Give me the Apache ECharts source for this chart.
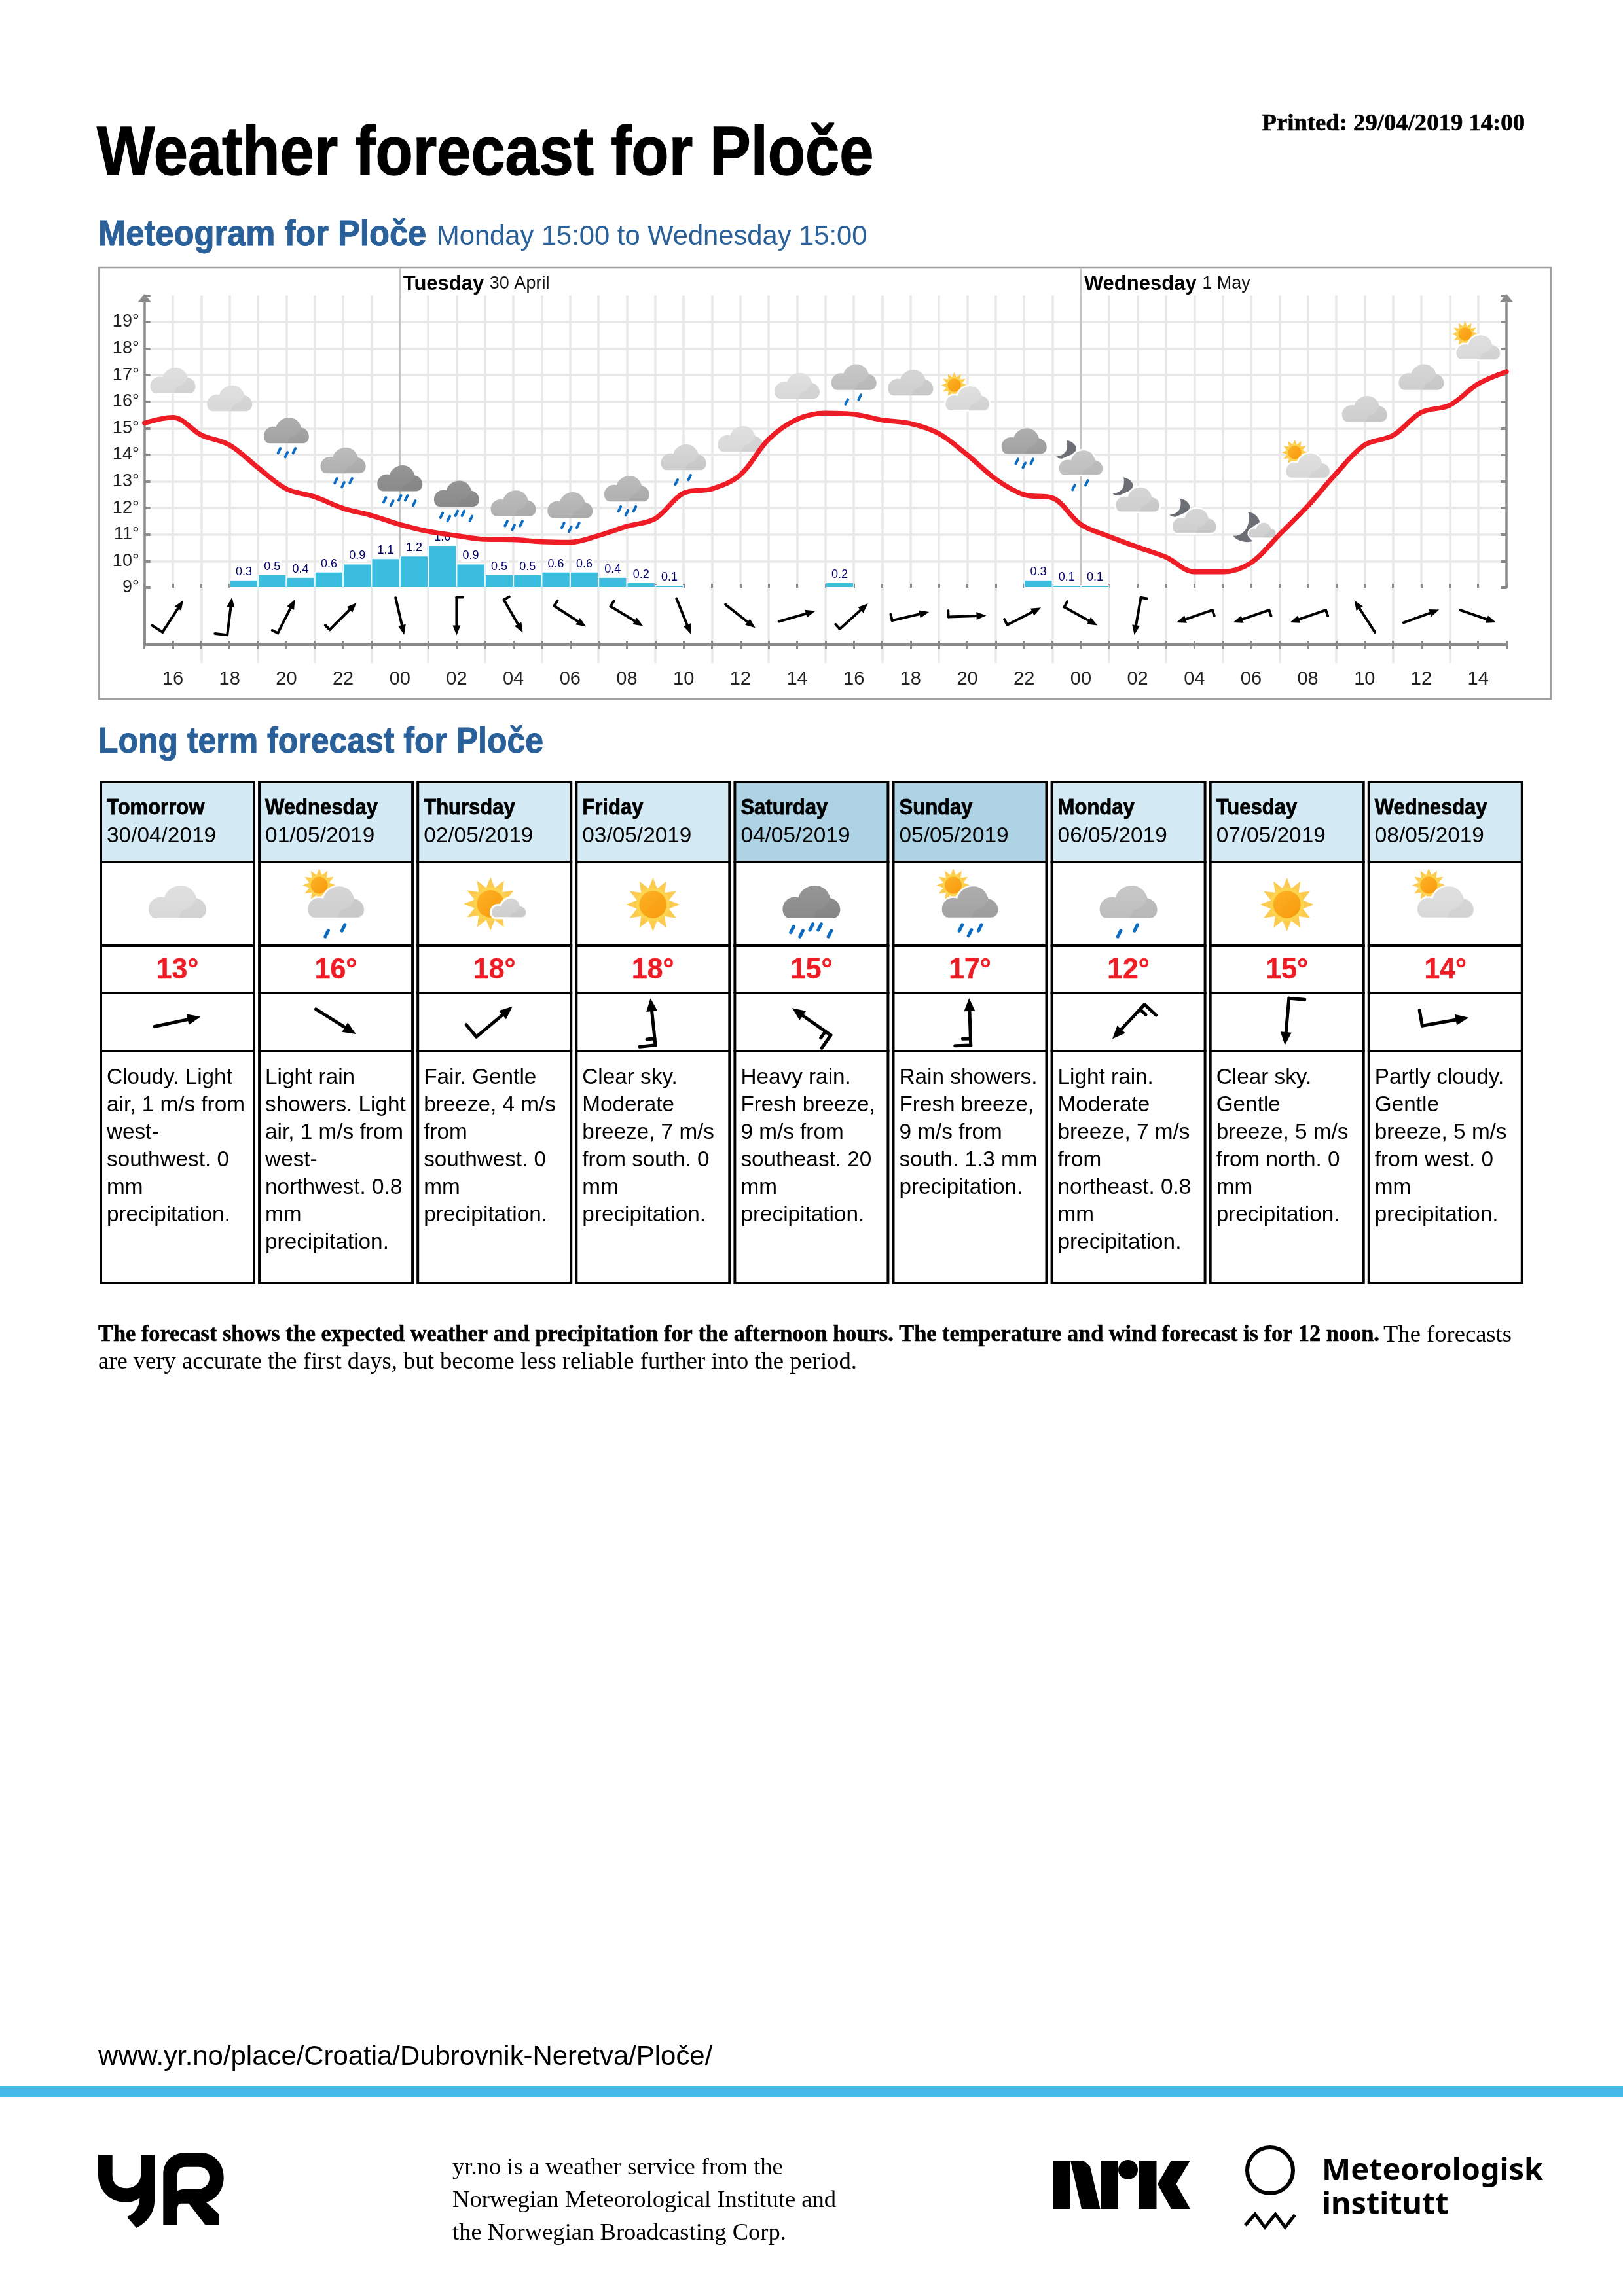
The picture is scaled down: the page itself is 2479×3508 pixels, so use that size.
<!DOCTYPE html>
<html><head><meta charset="utf-8">
<style>html,body{margin:0;padding:0;background:#fff}#c{width:2479px;height:3508px}</style>
<script src="https://cdn.jsdelivr.net/npm/echarts@6/dist/echarts.min.js"></script>
</head><body><div id="c"></div>
<script>
// ---------- data ----------
const temps = [15.2,15.41,14.75,14.37,13.52,12.72,12.42,11.99,11.72,11.38,11.12,10.96,10.82,10.81,10.73,10.71,10.96,11.31,11.6,12.56,12.72,13.25,14.59,15.34,
  15.57,15.53,15.31,15.18,14.8,14.0,13.09,12.5,12.38,11.38,10.93,10.53,10.15,9.6,9.6,9.94,11.0,12.08,13.3,14.37,14.73,15.6,15.87,16.67,17.13];
const precip = [0,0,0,0.3,0.5,0.4,0.6,0.9,1.1,1.2,1.6,0.9,0.5,0.5,0.6,0.6,0.4,0.2,0.1,0,0,0,0,0,0.2,0,0,0,0,0,0,0.3,0.1,0.1,0,0,0,0,0,0,0,0,0,0,0,0,0,0];
const hourLabels = ['16','18','20','22','00','02','04','06','08','10','12','14','16','18','20','22','00','02','04','06','08','10','12','14'];
const tempTicks = [9,10,11,12,13,14,15,16,17,18,19];
const iconLevels = [16.8,16.13,14.92,13.79,13.12,12.54,12.18,12.11,12.73,13.91,14.6,16.6,16.93,16.72,16.13,14.52,13.71,12.32,11.52,11.17,13.6,15.73,16.93,18.05];
const iconShades = [0,0,4,3,5,5,3,3,3,1,0,0,2,1,0,4,2,1,1,1,0,1,1,0];
const iconDrops  = [0,0,3,3,5,5,3,3,3,2,0,0,2,0,0,3,2,0,0,0,0,0,0,0];
const iconSkies  = ['','','','','','','','','','','','','','','sun','','moon','moon','moon','fairnight','sun','','','sun'];
const windAngles = [-57,-83,-63,-45,77,90,60,33,31,68,38,-16,-42,-13,-2,-27,29,100,161,161,161,-123,-20,19];
const windBarbs  = [1,1,0.5,0.5,0,0.5,0.5,0.5,0.5,0,0,0,0.5,0.5,0.5,0.5,0.5,0.5,0.5,0.5,0.5,0,0,0];
const dayOffsets = [9,33];
const dayNames = ['Tuesday','Wednesday'];
const dayDates = ['30 April','1 May'];
const longDays = ['Tomorrow','Wednesday','Thursday','Friday','Saturday','Sunday','Monday','Tuesday','Wednesday'];
const longDates = ['30/04/2019','01/05/2019','02/05/2019','03/05/2019','04/05/2019','05/05/2019','06/05/2019','07/05/2019','08/05/2019'];
const longWeekend = [0,0,0,0,1,1,0,0,0];
const longTemps = [13,16,18,18,15,17,12,15,14];
const longShades = [0,1,1,0,5,4,2,0,0];
const longDrops = [0,2,0,0,5,3,2,0,0];
const longSkies = ['','sun','fair','clear','','sun','','clear','sun'];
const longWindAngles = [-12,32,-40,-96,-145,-92,133,95,-10];
const longWindBarbs = [0,0,1,1.5,1.5,1.5,1.5,1,1];
const longTexts = [
 'Cloudy. Light\nair, 1 m/s from\nwest-\nsouthwest. 0\nmm\nprecipitation.',
 'Light rain\nshowers. Light\nair, 1 m/s from\nwest-\nnorthwest. 0.8\nmm\nprecipitation.',
 'Fair. Gentle\nbreeze, 4 m/s\nfrom\nsouthwest. 0\nmm\nprecipitation.',
 'Clear sky.\nModerate\nbreeze, 7 m/s\nfrom south. 0\nmm\nprecipitation.',
 'Heavy rain.\nFresh breeze,\n9 m/s from\nsoutheast. 20\nmm\nprecipitation.',
 'Rain showers.\nFresh breeze,\n9 m/s from\nsouth. 1.3 mm\nprecipitation.',
 'Light rain.\nModerate\nbreeze, 7 m/s\nfrom\nnortheast. 0.8\nmm\nprecipitation.',
 'Clear sky.\nGentle\nbreeze, 5 m/s\nfrom north. 0\nmm\nprecipitation.',
 'Partly cloudy.\nGentle\nbreeze, 5 m/s\nfrom west. 0\nmm\nprecipitation.'];

// ---------- drawing helpers ----------
const SANS='"Liberation Sans"', SERIF='"Liberation Serif"';
const GREY='#8a8c8c', GRID='#e8e8e8', RED='#ee1c25', BLUE='#2a6099';
const shadePalette=[['#e0e0e0','#d8d8d8'],['#d6d6d6','#cecece'],['#c8c8c8','#bebebe'],['#bcbcbc','#b0b0b0'],['#aeaeae','#a2a2a2'],['#969696','#8a8a8a']];
const CLOUD='M13 57C5 57 0 50 0 41C0 30 8 21 20 20C22 20 25 20 27 21C31 8 43 0 56 0C69 0 79 8 83 22C93 24 100 32 100 42C100 51 94 57 86 57Z';
const PATCH='M60 42C70 42 78 32 83 22C93 24 100 32 100 42C100 51 94 57 86 57L52 57C56 52 56 46 60 42Z';
const MOON='M-22 -34C-12 -32 -7 -25 -8 -20C-9 -15 -13 -13 -16 -12L-29 -6C-33 -6 -36 -7 -38 -9C-30 -10 -24 -14 -22 -20C-21 -25 -21 -30 -22 -34Z';
const MOON2='M168 187C200 190 222 215 220 235C205 240 180 255 170 275C170 290 175 305 188 316C160 325 120 315 100 292C130 295 155 275 165 250C175 225 175 205 168 187Z';

function T(text,x,y,font,fill,o){o=o||{};
  const el={type:'text',x:x,y:y,scaleX:o.sx||1,silent:true,z2:o.z2||20,style:{text:text,x:0,y:0,font:font,fill:fill,
    align:o.align||'left',verticalAlign:'middle',textAlign:o.align||'left',textVerticalAlign:'middle'}};
  if(o.stroke){el.style.stroke=fill;el.style.lineWidth=o.stroke;}
  return el;}
function P(d,x,y,w,h,style,z2){return {type:'path',silent:true,z2:z2||1,shape:{pathData:d,layout:'cover',x:x,y:y,width:w,height:h},style:style};}
function sunEls(cx,cy,R){
  const pts=[];for(let i=0;i<24;i++){const a=i*Math.PI/12-Math.PI/2,r=i%2?R*0.62:R;pts.push([cx+r*Math.cos(a),cy+r*Math.sin(a)]);}
  return [{type:'polygon',silent:true,z2:1,shape:{points:pts},style:{fill:'#fccb50'}},
   {type:'circle',silent:true,z2:1,shape:{cx:cx,cy:cy,r:R*0.63},style:{fill:'#fcd44e'}},
   {type:'circle',silent:true,z2:1,shape:{cx:cx,cy:cy,r:R*0.51},style:{fill:{type:'linear',x:0,y:0,x2:1,y2:1,colorStops:[{offset:0,color:'#fdb226'},{offset:1,color:'#f8990c'}]}}}];}
function cloudEls(cx,cy,w,shade,outline){
  const h=w*57/100, c=shadePalette[shade], st={fill:{type:'linear',x:0,y:0,x2:0,y2:1,colorStops:[{offset:0,color:c[0]},{offset:1,color:c[1]}]}};
  if(outline){st.stroke='#fff';st.lineWidth=outline;}
  return [P(CLOUD,cx-w/2,cy-h/2,w,h,st,2),
    P(PATCH,cx-w/2+0.52*w,cy-h/2+22/57*h,0.48*w,35/57*h,{fill:'rgba(0,0,0,0.03)'},3)];}
function dropEls(cx,cy,k,n){
  const pat={2:[[-11,38],[9,31]],3:[[-11,31],[0,37],[12,31]],5:[[-23,33],[-12,38],[0,30],[10,30],[22,38]]}[n]||[];
  return pat.map(p=>({type:'line',silent:true,z2:3,shape:{x1:cx+(p[0]+1.8)*k,y1:cy+(p[1]-3.6)*k,x2:cx+(p[0]-1.8)*k,y2:cy+(p[1]+3.6)*k},
    style:{stroke:'#0b6cc2',lineWidth:4*k,lineCap:'round'}}));}
function iconEls(cx,cy,w,shade,drops,sky){
  const k=w/69, els=[];
  if(sky==='clear') return sunEls(cx,cy+4,41);
  if(sky==='fair'){ return sunEls(cx-6,cy+3,41).concat(cloudEls(cx+22,cy+9,55,1,3)); }
  if(sky==='fairnight'){
    els.push(P(MOON2,cx-27.7,cy-27.7,40.7,46,{fill:'#6b6e75'},1));
    return els.concat(cloudEls(cx+17,cy,43,shade,2));
  }
  if(sky==='sun') els.push(...sunEls(cx-20*k,cy-20*k,20*k));
  if(sky==='moon') els.push(P(MOON,cx-38*k,cy-34*k,31*k,28*k,{fill:'#6b6e75'},1));
  els.push(...cloudEls(cx,cy,w,shade,sky?2.5:0));
  els.push(...dropEls(cx,cy,k,drops));
  return els;}
function arrowEls(cx,cy,angle,len,barbs,lw,headL,headW,longB){
  const a=angle*Math.PI/180, ux=Math.cos(a), uy=Math.sin(a), lx=uy, ly=-ux;
  const tx=cx-ux*len/2, ty=cy-uy*len/2, hx=cx+ux*len/2, hy=cy+uy*len/2;
  const bx=hx-ux*headL*0.8, by=hy-uy*headL*0.8, bs={stroke:'#000',lineWidth:lw,lineCap:'round'};
  const els=[{type:'line',silent:true,shape:{x1:tx,y1:ty,x2:bx,y2:by},style:bs},
   {type:'polygon',silent:true,shape:{points:[[hx,hy],[hx-ux*headL+lx*headW/2,hy-uy*headL+ly*headW/2],[hx-ux*headL-lx*headW/2,hy-uy*headL-ly*headW/2]]},style:{fill:'#000'}}];
  if(barbs>=1) els.push({type:'line',silent:true,shape:{x1:tx,y1:ty,x2:tx+lx*longB,y2:ty+ly*longB},style:bs});
  const n=barbs>=1?barbs-1:barbs;
  if(n>0){const off=barbs>=1?len*0.14:0, sx=tx+ux*off, sy=ty+uy*off;
    els.push({type:'line',silent:true,shape:{x1:sx,y1:sy,x2:sx+lx*longB/2,y2:sy+ly*longB/2},style:bs});}
  return els;}

// ---------- static page drawing ----------
function pageEls(){
  const E=[];
  const rect=(x,y,w,h,st,z2)=>({type:'rect',silent:true,z2:z2||0,shape:{x:x,y:y,width:w,height:h},style:st});
  E.push(T('Weather forecast for Ploče',148,238,'bold 105px '+SANS,'#000',{sx:0.893,stroke:1.5}));
  E.push(T('Printed: 29/04/2019 14:00',2329,190,'bold 36.7px '+SERIF,'#000',{align:'right',stroke:0.6}));
  E.push(T('Meteogram for Ploče',150,360,'bold 56px '+SANS,BLUE,{sx:0.905,stroke:1}));
  E.push(T('Monday 15:00 to Wednesday 15:00',667,363,'41.7px '+SANS,BLUE));
  E.push(rect(151,409,2218,659,{fill:'none',stroke:'#a0a0a0',lineWidth:2.5}));
  E.push(T('Long term forecast for Ploče',150,1135,'bold 56px '+SANS,BLUE,{sx:0.892,stroke:1}));
  // table
  const rows=[1195,1317,1445,1517,1606,1960];
  longDays.forEach((d,i)=>{
    const x=154+242.1*i, w=234, cx=x+w/2;
    E.push(rect(x,rows[0],w,rows[1]-rows[0],{fill:longWeekend[i]?'#aed3e5':'#d4ebf6'}));
    for(let r=0;r<5;r++) E.push(rect(x,rows[r],w,rows[r+1]-rows[r],{fill:'none',stroke:'#000',lineWidth:4},5));
    E.push(T(d,x+9,1235,'bold 33px '+SANS,'#000',{sx:0.94,stroke:0.8}));
    E.push(T(longDates[i],x+9,1278,'33.4px '+SANS,'#000'));
    iconEls(cx,1378,88,longShades[i],longDrops[i],longSkies[i]).forEach(e=>E.push(e));
    E.push(T(longTemps[i]+'°',cx,1483,'bold 44px '+SANS,RED,{align:'center',sx:0.97,stroke:0.5}));
    arrowEls(cx,1561,longWindAngles[i],72,longWindBarbs[i],5,20,17,24).forEach(e=>E.push(e));
    longTexts[i].split('\n').forEach((ln,j)=>E.push(T(ln,x+9,1647+42*j,'33.3px '+SANS,'#000')));
  });
  E.push(T('The forecast shows the expected weather and precipitation for the afternoon hours. The temperature and wind forecast is for 12 noon.',150,2040,'bold 36.6px '+SERIF,'#000',{sx:0.938,stroke:0.6}));
  E.push(T('The forecasts',2113,2040,'36.6px '+SERIF,'#000'));
  E.push(T('are very accurate the first days, but become less reliable further into the period.',150,2081,'36.6px '+SERIF,'#000'));
  E.push(T('www.yr.no/place/Croatia/Dubrovnik-Neretva/Ploče/',150,3143,'41.9px '+SANS,'#000'));
  E.push(rect(0,3187,2479,17,{fill:'#44b8e8'}));
  // footer text
  ['yr.no is a weather service from the','Norwegian Meteorological Institute and','the Norwegian Broadcasting Corp.'].forEach((t,i)=>E.push(T(t,691,3312+50*i,'36.6px '+SERIF,'#000')));
  // YR logo
  E.push(P('M60 97L125 97L125 190C125 230 150 250 190 250C225 250 255 225 255 190L255 97L318 97L318 310C318 365 280 410 235 432L192 382C225 365 250 340 250 295C230 310 205 315 185 315C115 315 60 260 60 190Z',130+20,3260+32.3,86,111.7,{fill:'#000'}));
  E.push(P('M358 420L358 185C358 130 400 88 455 88L530 88C590 88 635 135 635 200C635 260 600 300 555 315L615 370L615 420L552 420L475 320L440 320C425 320 423 335 423 350L423 420ZM423 262C430 258 440 255 450 255L510 255C545 255 570 235 570 200C570 170 548 152 520 152L460 152C435 152 423 168 423 190Z',130+119.3,3260+29.3,92.4,110.7,{fill:'#000'}));
  // NRK logo
  const poly=(pts)=>({type:'polygon',silent:true,shape:{points:pts},style:{fill:'#000'}});
  E.push(rect(1608,3301,26,74,{fill:'#000'}));
  E.push(poly([[1635,3301],[1655,3301],[1665,3310],[1680.5,3375],[1652,3375]]));
  E.push(rect(1681,3301,27,74,{fill:'#000'}));
  E.push({type:'circle',silent:true,shape:{cx:1723,cy:3315,r:15},style:{fill:'#000'}});
  E.push(rect(1739,3301,27.5,74,{fill:'#000'}));
  E.push(poly([[1789,3301],[1818,3301],[1796.5,3337],[1818,3375],[1789,3375],[1768,3337]]));
  // MET logo
  E.push({type:'circle',silent:true,shape:{cx:1940,cy:3316,r:35},style:{fill:'none',stroke:'#000',lineWidth:6}});
  E.push({type:'polyline',silent:true,shape:{points:[[1902,3400],[1917,3383],[1932,3403],[1948,3383],[1963,3403],[1978,3384]]},style:{fill:'none',stroke:'#000',lineWidth:5}});
  E.push(T('Meteorologisk',2019,3318,'bold 46.8px "Noto Sans"','#000'));
  E.push(T('institutt',2019,3370,'bold 46.8px "Noto Sans"','#000'));
  return E;}

// ---------- chart ----------
const L=220.7, R=2479-2301, Y9=898, PX=40.6;
const hourAxis=(g,extra)=>Object.assign({type:'value',gridIndex:g,min:0,max:48,interval:1,axisLabel:{show:false},axisLine:{show:false},axisTick:{show:false},splitLine:{show:false}},extra);
const tickStyle={color:GREY,width:3};
const oddHours=hourLabels.map((_,i)=>2*i+1);
const chart=echarts.init(document.getElementById('c'));
chart.setOption({
  animation:false,backgroundColor:'#fff',
  grid:[
    {left:L,right:R,top:Y9-11*PX,height:11*PX},
    {left:L,right:R,top:Y9,height:87},
    {left:L,right:R,top:Y9,height:115},
    {left:L,right:R,top:975,height:10}
  ],
  xAxis:[
    hourAxis(0,{splitLine:{show:true,showMinLine:false,showMaxLine:false,lineStyle:{color:GRID,width:3.5}},axisTick:{show:true,inside:true,length:6,lineStyle:tickStyle}}),
    {type:'category',gridIndex:0,data:precip.map((_,i)=>i),show:false,boundaryGap:true},
    hourAxis(1,{position:'top',z:10,axisLine:{show:true,lineStyle:{color:GREY,width:4}},axisTick:{show:true,inside:true,length:7,lineStyle:tickStyle}}),
    hourAxis(1,{position:'bottom',z:10,axisLine:{show:true,lineStyle:{color:GREY,width:4}},axisTick:{show:true,length:6,lineStyle:tickStyle},
      axisLabel:{show:true,margin:38,color:'#222',fontFamily:'Liberation Sans',fontSize:29,showMinLabel:false,showMaxLabel:false,
        formatter:v=>{const i=oddHours.indexOf(v);return i<0?'':hourLabels[i];}}}),
    hourAxis(2,{interval:2,splitLine:{show:true,showMinLine:false,showMaxLine:false,lineStyle:{color:GRID,width:3.5}}}),
    hourAxis(3,{position:'bottom',axisTick:{show:true,inside:true,length:6,lineStyle:tickStyle}})
  ],
  yAxis:[
    {type:'value',gridIndex:0,min:tempTicks[0],max:20,interval:1,position:'left',
     axisLine:{show:true,symbol:['none','triangle'],symbolSize:[21,13],symbolOffset:[0,-4],lineStyle:{color:GREY,width:3.5}},
     axisTick:{show:true,inside:true,length:9,lineStyle:{color:GREY,width:4}},
     axisLabel:{margin:8,color:'#222',fontFamily:'Liberation Sans',fontSize:27,formatter:v=>tempTicks.indexOf(v)>=0?v+'°':''},
     splitLine:{show:true,showMinLine:false,showMaxLine:false,lineStyle:{color:GRID,width:3.5}}},
    {type:'value',gridIndex:0,min:tempTicks[0],max:20,interval:1,position:'right',
     axisLine:{show:true,symbol:['none','triangle'],symbolSize:[21,13],symbolOffset:[0,-4],lineStyle:{color:GREY,width:3.5}},
     axisTick:{show:true,inside:true,length:9,lineStyle:{color:GREY,width:4}},axisLabel:{show:false},splitLine:{show:false}},
    {type:'value',gridIndex:0,min:0,max:11,show:false},
    {type:'value',gridIndex:1,min:0,max:1,position:'left',axisLabel:{show:false},axisTick:{show:false},splitLine:{show:false},axisLine:{show:true,lineStyle:{color:GREY,width:3.5}}},
    {type:'value',gridIndex:1,min:0,max:1,position:'right',axisLabel:{show:false},axisTick:{show:false},splitLine:{show:false},axisLine:{show:true,lineStyle:{color:GREY,width:3.5}}},
    {type:'value',gridIndex:2,min:0,max:1,show:false},
    {type:'value',gridIndex:3,min:0,max:1,show:false}
  ],
  series:[
    {type:'custom',name:'page',coordinateSystem:'none',silent:true,z:1,data:[[0]],
     renderItem:()=>({type:'group',children:pageEls()})},
    {type:'custom',name:'days',xAxisIndex:0,yAxisIndex:0,silent:true,z:1,clip:false,
     data:dayOffsets.map(h=>[h,20]),
     renderItem:(p,api)=>{const c=api.coord([api.value(0),tempTicks[0]]),t=api.coord([api.value(0),21.04]),i=p.dataIndex;
       return {type:'group',children:[
        {type:'line',silent:true,shape:{x1:c[0],y1:c[1],x2:t[0],y2:t[1]},style:{stroke:'#c4c4c0',lineWidth:2.5}},
        {type:'text',silent:true,x:c[0]+5,y:434,style:{x:0,y:0,verticalAlign:'middle',textVerticalAlign:'middle',
          text:'{b|'+dayNames[i]+' }{r|'+dayDates[i]+'}',rich:{b:{font:'bold 31px "Liberation Sans"',fill:'#000',color:'#000'},r:{font:'27px "Liberation Sans"',fill:'#111',color:'#111'}}}}
       ]};}},
    {type:'custom',name:'icons',xAxisIndex:0,yAxisIndex:0,silent:true,z:3,clip:false,
     data:iconLevels.map((v,i)=>[oddHours[i],v]),encode:{x:0,y:1},
     renderItem:(p,api)=>{const c=api.coord([api.value(0),api.value(1)]),i=p.dataIndex;
       return {type:'group',children:iconEls(c[0],c[1],69,iconShades[i],iconDrops[i],iconSkies[i])};}},
    {type:'bar',name:'precipitation',xAxisIndex:1,yAxisIndex:2,z:4,barWidth:'100%',barGap:0,
     data:precip.map(v=>v>0?v:null),
     itemStyle:{color:'#3bbde0',borderColor:'#fff',borderWidth:1},
     label:{show:true,position:'top',distance:3,color:'#00006e',fontFamily:'Liberation Sans',fontSize:18,backgroundColor:'#fff',padding:[1,2,0,2],
       formatter:p=>p.value.toFixed(1)}},
    {type:'line',name:'temperature',xAxisIndex:0,yAxisIndex:0,z:6,clip:false,smooth:0.35,showSymbol:false,
     data:temps.map((t,i)=>[i,t]),lineStyle:{color:RED,width:7.5,cap:'round',join:'round'}},
    {type:'custom',name:'wind',xAxisIndex:2,yAxisIndex:3,silent:true,z:7,clip:false,
     data:windAngles.map((a,i)=>[oddHours[i],0.5]),encode:{x:0,y:1},
     renderItem:(p,api)=>{const c=api.coord([api.value(0),api.value(1)]),i=p.dataIndex;
       return {type:'group',children:arrowEls(c[0],c[1],windAngles[i],58,windBarbs[i],4,15,12,19)};}}
  ]
});
</script></body></html>
